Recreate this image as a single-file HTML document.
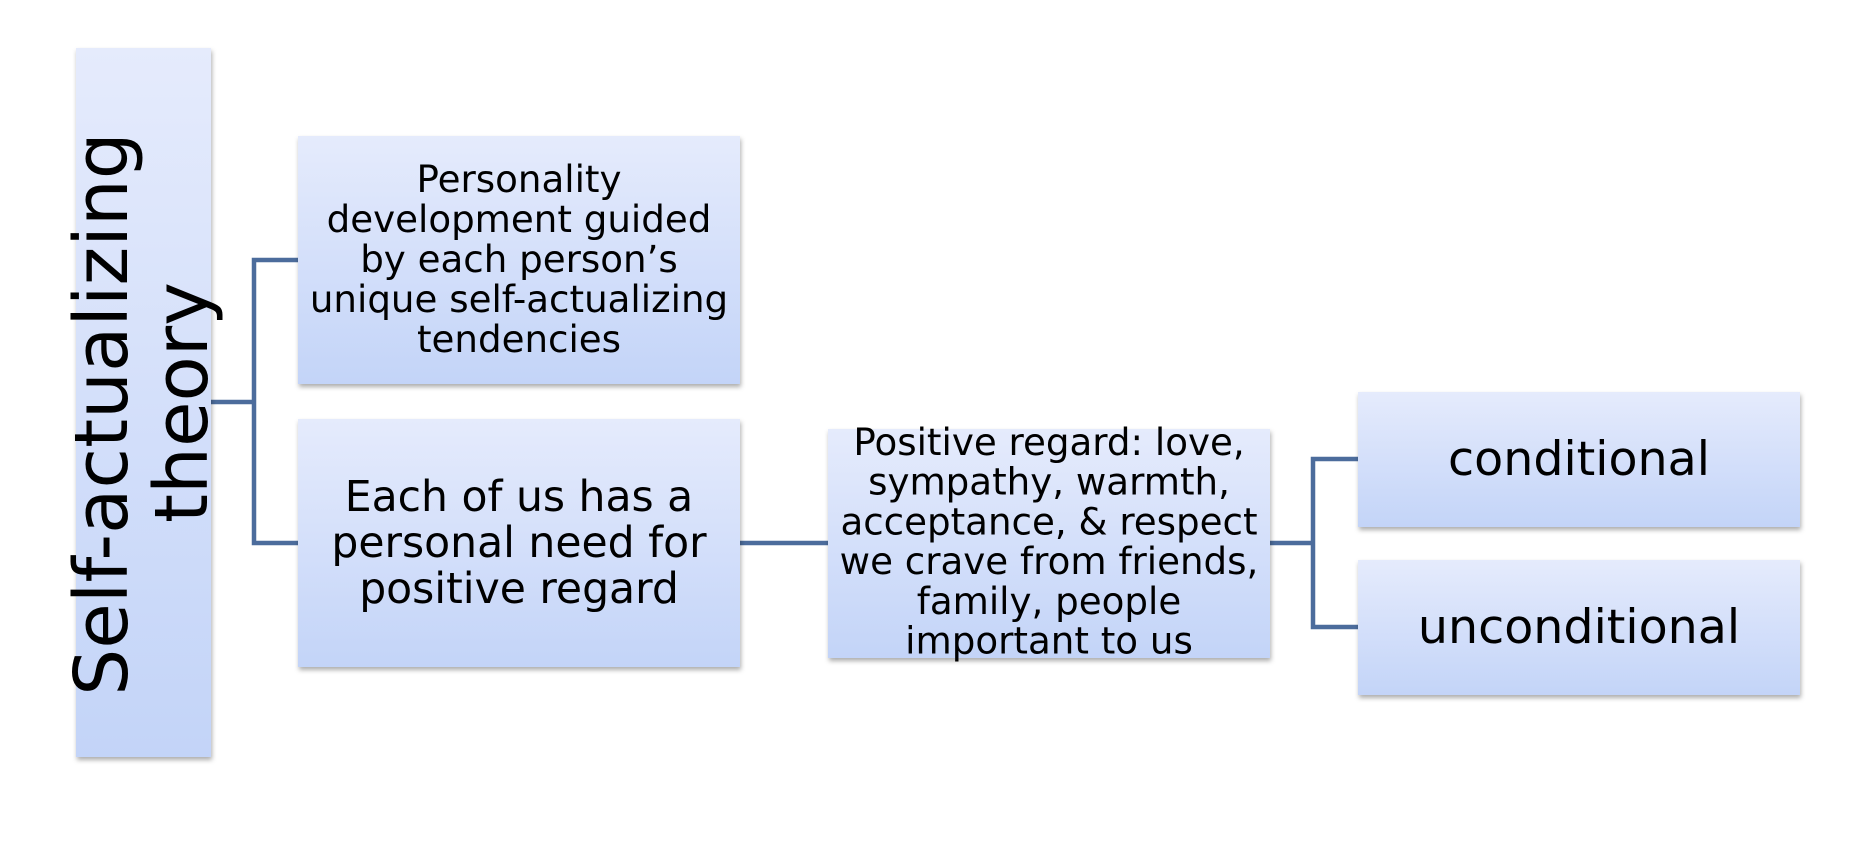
<!DOCTYPE html>
<html>
<head>
<meta charset="utf-8">
<style>
  html, body { margin: 0; padding: 0; background: #ffffff; }
  body { width: 1862px; height: 862px; overflow: hidden; }
  svg { display: block; }
  text { font-family: "DejaVu Sans", "Liberation Sans", sans-serif; fill: #000; }
</style>
</head>
<body>
<svg width="1862" height="862" viewBox="0 0 1862 862" xmlns="http://www.w3.org/2000/svg">
  <defs>
    <linearGradient id="g" x1="0" y1="0" x2="0" y2="1">
      <stop offset="0" stop-color="#e5ebfc"/>
      <stop offset="1" stop-color="#c3d4f8"/>
    </linearGradient>
    <filter id="sh" x="-10%" y="-10%" width="120%" height="125%">
      <feDropShadow dx="1" dy="3" stdDeviation="2.5" flood-color="#000" flood-opacity="0.32"/>
    </filter>
  </defs>

  <!-- connectors -->
  <g stroke="#4c6c9c" stroke-width="4.5" fill="none" stroke-linecap="square">
    <path d="M211 402 H254 M254 260 V543 M254 260 H298 M254 543 H298"/>
    <path d="M740 543 H828"/>
    <path d="M1270 543 H1313 M1313 459 V627 M1313 459 H1358 M1313 627 H1358"/>
  </g>

  <!-- boxes -->
  <g fill="url(#g)" filter="url(#sh)">
    <rect x="76" y="48" width="135" height="709"/>
    <rect x="298" y="136" width="442" height="248"/>
    <rect x="298" y="419" width="442" height="248"/>
    <rect x="828" y="429" width="442" height="229"/>
    <rect x="1358" y="392" width="442" height="135"/>
    <rect x="1358" y="560" width="442" height="135"/>
  </g>

  <!-- left vertical title -->
  <text font-size="74" text-anchor="middle" transform="translate(127,414) rotate(-90)">Self-actualizing</text>
  <text font-size="74" text-anchor="middle" transform="translate(207,402.5) rotate(-90)">theory</text>

  <!-- box 1 -->
  <g font-size="37.2" text-anchor="middle">
    <text x="519" y="192">Personality</text>
    <text x="519" y="232">development guided</text>
    <text x="519" y="272">by each person’s</text>
    <text x="519" y="312">unique self-actualizing</text>
    <text x="519" y="352">tendencies</text>
  </g>

  <!-- box 2 -->
  <g font-size="42.5" text-anchor="middle">
    <text x="519" y="511">Each of us has a</text>
    <text x="519" y="557">personal need for</text>
    <text x="519" y="603">positive regard</text>
  </g>

  <!-- box 3 -->
  <g font-size="37.2" text-anchor="middle">
    <text x="1049" y="455">Positive regard: love,</text>
    <text x="1049" y="494.7">sympathy, warmth,</text>
    <text x="1049" y="534.4">acceptance, &amp; respect</text>
    <text x="1049" y="574.1">we crave from friends,</text>
    <text x="1049" y="613.8">family, people</text>
    <text x="1049" y="653.5">important to us</text>
  </g>

  <!-- right boxes -->
  <g font-size="47.5" text-anchor="middle">
    <text x="1579" y="475">conditional</text>
    <text x="1579" y="643">unconditional</text>
  </g>
</svg>
</body>
</html>
